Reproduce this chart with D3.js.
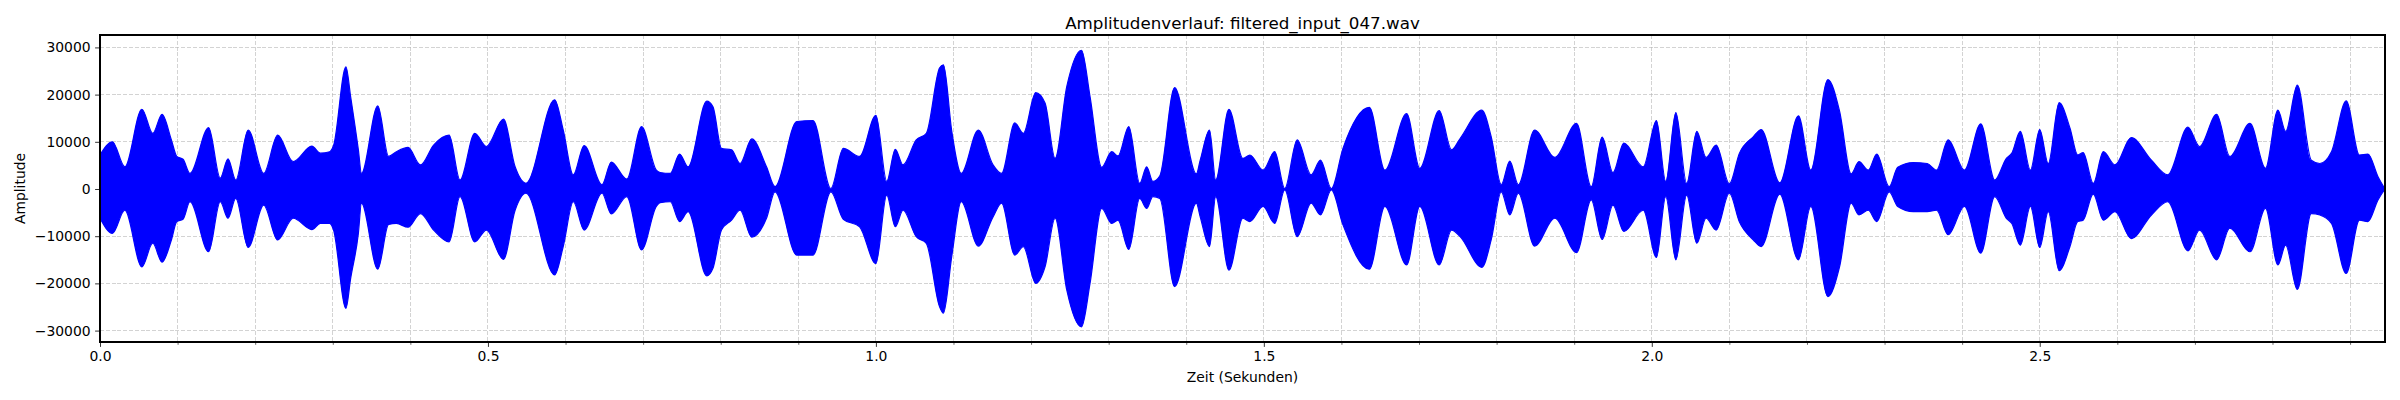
<!DOCTYPE html>
<html>
<head>
<meta charset="utf-8">
<script src="https://cdn.jsdelivr.net/npm/d3@7"></script>
<style>
  body { margin: 0; background: #fff; }
  svg { display: block; font-family: "DejaVu Sans", sans-serif; }
</style>
</head>
<body>
<div id="chart"></div>
<script>
// envelope of the waveform (seconds / amplitude)
var times = [0.000, 0.016, 0.032, 0.054, 0.068, 0.080, 0.092, 0.099, 0.107, 0.116,
  0.140, 0.155, 0.165, 0.175, 0.191, 0.211, 0.229, 0.249, 0.273, 0.284,
  0.296, 0.301, 0.317, 0.323, 0.333, 0.337, 0.358, 0.372, 0.382, 0.397,
  0.413, 0.430, 0.450, 0.464, 0.483, 0.498, 0.520, 0.535, 0.549, 0.586,
  0.597, 0.610, 0.624, 0.647, 0.659, 0.679, 0.698, 0.717, 0.722, 0.735,
  0.747, 0.758, 0.782, 0.790, 0.801, 0.814, 0.825, 0.840, 0.859, 0.870,
  0.898, 0.919, 0.942, 0.958, 0.979, 1.000, 1.014, 1.025, 1.035, 1.052,
  1.065, 1.082, 1.087, 1.098, 1.110, 1.132, 1.151, 1.162, 1.179, 1.190,
  1.206, 1.218, 1.231, 1.246, 1.265, 1.276, 1.291, 1.304, 1.312, 1.326,
  1.340, 1.349, 1.357, 1.366, 1.385, 1.413, 1.418, 1.430, 1.438, 1.455,
  1.473, 1.482, 1.499, 1.514, 1.527, 1.543, 1.561, 1.573, 1.587, 1.602,
  1.636, 1.656, 1.684, 1.701, 1.726, 1.742, 1.753, 1.781, 1.793, 1.806,
  1.817, 1.828, 1.849, 1.875, 1.903, 1.922, 1.936, 1.950, 1.964, 1.989,
  2.006, 2.018, 2.031, 2.045, 2.058, 2.070, 2.083, 2.100, 2.113, 2.131,
  2.141, 2.165, 2.189, 2.205, 2.227, 2.242, 2.257, 2.267, 2.279, 2.290,
  2.306, 2.317, 2.337, 2.355, 2.367, 2.382, 2.403, 2.424, 2.442, 2.457,
  2.464, 2.475, 2.488, 2.500, 2.511, 2.525, 2.539, 2.549, 2.556, 2.569,
  2.582, 2.597, 2.618, 2.644, 2.665, 2.691, 2.706, 2.728, 2.745, 2.771,
  2.791, 2.807, 2.817, 2.832, 2.850, 2.861, 2.876, 2.895, 2.912, 2.923,
  2.936, 2.945];

var upper = [7200, 10000, 4700, 16900, 11800, 15800, 10400, 6900, 6300, 3300,
  13000, 2300, 6400, 1900, 12500, 3300, 11400, 5800, 9100, 7600,
  7900, 9200, 25900, 19600, 8300, 3300, 17600, 6900, 7900, 8800,
  5100, 9300, 11400, 1900, 11800, 9000, 14800, 4700, 1200, 18900,
  12500, 3000, 9200, 900, 5700, 2100, 13200, 4000, 3500, 3300,
  7400, 4700, 18600, 17400, 8600, 8300, 5400, 10600, 4700, 500,
  14300, 14500, 100, 8600, 6900, 15600, 1600, 8400, 5100, 10400,
  11800, 25600, 26300, 12000, 3300, 12500, 5100, 3300, 14000, 11800,
  20400, 18200, 6500, 21700, 29400, 19600, 4600, 7900, 7000, 13200,
  1200, 4700, 1600, 2800, 21500, 3200, 6100, 12500, 1900, 16900,
  6500, 7200, 4000, 7900, 100, 10400, 3000, 6100, 100, 8600,
  17300, 4000, 16000, 4400, 16600, 8300, 10700, 16700, 11100, 900,
  5900, 900, 12500, 6700, 13900, 500, 11000, 3500, 9700, 4700,
  14500, 1600, 16200, 1200, 12200, 6700, 9300, 1100, 7600, 11100,
  12600, 1300, 15500, 4000, 23200, 16500, 3200, 5800, 4000, 7400,
  500, 4600, 5600, 5400, 4000, 10400, 4000, 13800, 1900, 6500,
  7600, 12200, 4000, 12600, 5400, 18300, 12900, 7200, 7700, 1200,
  7900, 5100, 10900, 6100, 3000, 13100, 9000, 15800, 6900, 13900,
  4400, 16700, 12200, 22000, 6100, 5400, 7900, 18700, 7200, 7400,
  2600, 0];

var lower = [-6200, -9400, -4500, -16500, -11500, -15500, -10800, -6900, -6400, -2700,
  -13300, -2700, -6200, -2000, -12400, -3400, -10800, -6200, -8600, -7300,
  -7300, -8700, -25300, -19000, -9400, -3000, -17000, -7500, -7300, -8100,
  -5200, -8700, -11200, -1600, -11200, -8700, -14900, -4500, -900, -18200,
  -12200, -2700, -8700, -900, -5300, -1600, -12900, -3700, -2900, -2700,
  -6900, -4800, -18400, -16800, -8700, -6600, -4500, -10200, -6200, -600,
  -14000, -14000, -600, -6400, -8000, -15800, -1300, -8000, -4500, -10100,
  -11500, -24900, -26300, -14000, -2700, -12100, -5900, -3000, -14000, -12200,
  -20000, -16500, -6200, -21400, -29200, -20000, -4100, -7300, -6600, -12800,
  -2000, -4100, -1600, -2000, -20700, -3000, -5900, -12200, -1600, -17200,
  -6200, -6900, -3700, -7300, -200, -10100, -3000, -5500, -200, -7600,
  -17000, -3700, -16100, -3700, -16100, -8700, -10100, -16600, -10800, -600,
  -5500, -900, -12100, -6200, -13500, -2300, -10700, -3400, -9000, -4500,
  -14500, -1600, -15000, -1300, -11500, -6200, -8700, -900, -7000, -10800,
  -12200, -1100, -15000, -3700, -22800, -16500, -3000, -5500, -4500, -6900,
  -600, -3700, -4800, -4800, -4500, -9700, -3700, -13600, -1600, -6200,
  -7300, -11900, -3700, -12400, -4800, -17300, -12200, -6900, -6600, -1100,
  -6600, -4800, -10500, -5500, -2700, -13100, -8700, -15000, -8300, -13300,
  -4100, -16100, -11900, -21300, -5200, -5500, -7300, -17900, -6600, -6900,
  -2300, 0];

var yTicks = [-30000, -20000, -10000, 0, 10000, 20000, 30000];
var xMajorTicks = [0.0, 0.5, 1.0, 1.5, 2.0, 2.5];
var xMinorTicks = [0.1, 0.2, 0.3, 0.4, 0.6, 0.7, 0.8, 0.9, 1.1, 1.2, 1.3, 1.4,
  1.6, 1.7, 1.8, 1.9, 2.1, 2.2, 2.3, 2.4, 2.6, 2.7, 2.8, 2.9];
var yLimits = [-32420, 32630];

var titleText = "Amplitudenverlauf: filtered_input_047.wav";
var xLabel = "Zeit (Sekunden)";
var yLabel = "Amplitude";

var W = 2400, H = 400;
var margin = {top: 35, right: 15, bottom: 58, left: 100};
var w = W - margin.left - margin.right;
var h = H - margin.top - margin.bottom;

var svg = d3.select("#chart").append("svg")
    .attr("width", W)
    .attr("height", H);

var g = svg.append("g")
    .attr("transform", "translate(" + margin.left + "," + margin.top + ")");

var x = d3.scaleLinear().domain([0, d3.max(times)]).range([0, w]);
var y = d3.scaleLinear().domain(yLimits).range([h, 0]);

// grid, under the signal like matplotlib does
var gridStyle = function(sel){
  sel.attr("stroke", "#b0b0b0")
     .attr("stroke-opacity", 0.7)
     .attr("stroke-width", 0.8)
     .attr("stroke-dasharray", "4,1.8")
     .attr("shape-rendering", "crispEdges");
};
g.append("g").selectAll("line")
  .data(xMajorTicks.concat(xMinorTicks))
  .enter().append("line")
    .attr("x1", function(d){ return x(d); })
    .attr("x2", function(d){ return x(d); })
    .attr("y1", 0).attr("y2", h)
    .call(gridStyle);
g.append("g").selectAll("line")
  .data(yTicks)
  .enter().append("line")
    .attr("x1", 0).attr("x2", w)
    .attr("y1", function(d){ return y(d); })
    .attr("y2", function(d){ return y(d); })
    .call(gridStyle);

// the waveform, drawn as its filled envelope
var area = d3.area()
    .curve(d3.curveMonotoneX)
    .x(function(d, i){ return x(times[i]); })
    .y0(function(d, i){ return y(lower[i]); })
    .y1(function(d, i){ return y(upper[i]); });

g.append("path")
    .datum(times)
    .attr("d", area)
    .attr("fill", "#0000ff")
    .attr("stroke", "#0000ff")
    .attr("stroke-width", 1.2)
    .attr("stroke-linejoin", "round");

// axes
var xAxis = g.append("g")
    .attr("transform", "translate(0," + h + ")")
    .call(d3.axisBottom(x).tickValues(xMajorTicks).tickFormat(d3.format(".1f"))
      .tickSize(4.9).tickPadding(4.5));
g.append("g")
    .attr("transform", "translate(0," + h + ")")
    .call(d3.axisBottom(x).tickValues(xMinorTicks).tickFormat("").tickSize(2.8))
    .call(function(s){ s.select(".domain").remove(); })
    .selectAll("line").attr("stroke-width", 0.6);

var yAxis = g.append("g")
    .call(d3.axisLeft(y).tickValues(yTicks).tickFormat(d3.format("d"))
      .tickSize(4.9).tickPadding(4.5));

g.selectAll(".tick text")
    .attr("font-family", "DejaVu Sans, sans-serif")
    .attr("font-size", "13.9px")
    .attr("fill", "#000");
g.selectAll(".tick line").attr("stroke", "#000");
xAxis.selectAll(".tick line").attr("stroke-width", 0.8);
yAxis.selectAll(".tick line").attr("stroke-width", 0.8);
g.selectAll(".domain").remove();

// frame
g.append("rect")
    .attr("width", w).attr("height", h)
    .attr("fill", "none")
    .attr("stroke", "#000")
    .attr("stroke-width", 1.1)
    .attr("shape-rendering", "crispEdges");

// labels
svg.append("text")
    .attr("x", margin.left + w/2)
    .attr("y", 29)
    .attr("text-anchor", "middle")
    .attr("font-size", "16.7px")
    .text(titleText);

svg.append("text")
    .attr("x", margin.left + w/2)
    .attr("y", 382)
    .attr("text-anchor", "middle")
    .attr("font-size", "13.9px")
    .text(xLabel);

svg.append("text")
    .attr("transform", "translate(25," + (margin.top + h/2) + ") rotate(-90)")
    .attr("text-anchor", "middle")
    .attr("font-size", "13.9px")
    .text(yLabel);
</script>
</body>
</html>
